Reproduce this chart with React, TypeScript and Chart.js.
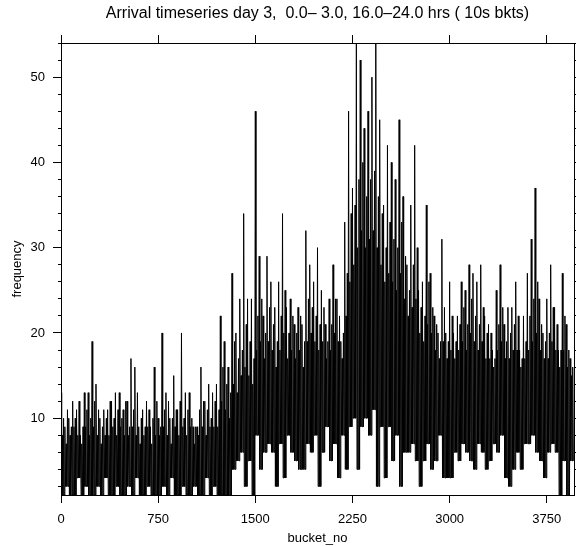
import { useEffect, useRef } from "react";
import { Chart, registerables } from "chart.js";

Chart.register(...registerables);

const TITLE = "Arrival timeseries day 3,  0.0\u2013 3.0, 16.0\u201324.0 hrs ( 10s bkts)";
const X_LABEL = "bucket_no";
const Y_LABEL = "frequency";

const X_MIN = 0;
const X_MAX = 3960;
const Y_MIN = 1;
const Y_MAX = 54;

// bucket numbers are grouped in columns of this many buckets
const BUCKET_STEP = 30;

const X_TICKS = [0, 750, 1500, 2250, 3000, 3750];
const Y_TICKS = [10, 20, 30, 40, 50];
const Y_MINOR_TICKS = [2, 4, 6, 8, 10, 12, 14, 16, 18, 20, 22, 24, 26, 28, 30, 32, 34, 36, 38, 40, 42, 44, 46, 48, 50, 52, 54];

// highest count (spike) read in each column of buckets
const HIGH_COUNTS = [
  13, 9, 10, 12, 11, 8, 13, 13, 19, 14,
  10, 11, 11, 12, 13, 13, 11, 12, 17, 16,
  9, 11, 12, 9, 16, 10, 20, 13, 10, 15,
  11, 20, 13, 13, 9, 9, 16, 12, 14, 13,
  14, 22, 19, 16, 27, 20, 24, 34, 24, 24,
  46, 29, 22, 29, 26, 23, 26, 34, 23, 24,
  21, 23, 21, 32, 28, 26, 30, 25, 21, 24,
  28, 24, 19, 33, 46, 37, 54, 52, 44, 46,
  50, 54, 45, 35, 42, 40, 38, 45, 36, 28,
  35, 42, 25, 26, 35, 27, 22, 20, 31, 20,
  26, 20, 22, 26, 25, 28, 27, 26, 28, 22,
  21, 18, 25, 28, 21, 23, 23, 26, 18, 22,
  27, 31, 37, 24, 20, 24, 28, 23, 18, 27, 21, 17,
];

// second, smaller spike read in each column of buckets
const MID_COUNTS = [
  10, 11, 9, 10, 12, 9, 11, 10, 12, 11,
  9, 10, 12, 10, 11, 10, 12, 9, 11, 13,
  10, 9, 11, 10, 12, 9, 11, 12, 10, 11,
  12, 10, 11, 10, 9, 11, 12, 11, 10, 12,
  11, 16, 14, 13, 19, 17, 18, 21, 19, 17,
  22, 24, 20, 23, 21, 19, 22, 25, 20, 22,
  20, 22, 19, 24, 23, 22, 21, 23, 19, 21,
  24, 22, 20, 27, 34, 35, 38, 40, 36, 38,
  39, 36, 34, 30, 33, 31, 30, 33, 29, 25,
  28, 30, 23, 22, 26, 23, 21, 19, 23, 19,
  22, 19, 21, 23, 21, 24, 22, 21, 23, 20,
  20, 17, 21, 23, 19, 20, 21, 22, 17, 19,
  22, 24, 26, 21, 19, 20, 23, 21, 18, 22, 18, 16,
];

// upper edge of the dense (solid black) band in each column
const BAND_COUNTS = [
  8, 7, 8, 9, 8, 7, 9, 8, 9, 8,
  7, 8, 8, 9, 8, 9, 8, 8, 9, 8,
  7, 8, 9, 7, 8, 8, 9, 8, 7, 9,
  8, 9, 8, 9, 7, 8, 9, 8, 9, 9,
  9, 12, 11, 10, 14, 13, 15, 16, 15, 14,
  18, 19, 17, 19, 18, 16, 18, 20, 17, 18,
  17, 18, 16, 19, 20, 19, 18, 19, 17, 18,
  20, 19, 17, 22, 26, 28, 30, 32, 30, 31,
  32, 30, 28, 26, 27, 26, 25, 27, 24, 22,
  23, 24, 20, 19, 21, 20, 18, 17, 19, 17,
  18, 17, 18, 19, 18, 20, 19, 18, 19, 17,
  17, 16, 18, 19, 17, 17, 18, 18, 16, 17,
  18, 19, 20, 18, 17, 17, 19, 18, 16, 18, 16, 15,
];

// lowest count read in each column of buckets
const LOW_COUNTS = [
  1, 2, 1, 1, 3, 1, 2, 1, 1, 2,
  1, 3, 1, 1, 2, 1, 1, 2, 1, 3,
  1, 1, 2, 1, 1, 1, 2, 1, 3, 1,
  1, 2, 1, 1, 2, 1, 1, 3, 1, 2,
  1, 1, 1, 1, 4, 5, 6, 2, 5, 1,
  8, 4, 6, 7, 6, 2, 7, 3, 8, 6,
  5, 4, 4, 7, 6, 8, 2, 6, 9, 5,
  7, 3, 8, 4, 9, 10, 4, 9, 10, 8,
  11, 2, 9, 3, 9, 5, 8, 2, 6, 6,
  7, 5, 2, 5, 7, 4, 5, 8, 3, 3,
  3, 6, 5, 7, 6, 5, 4, 7, 6, 4,
  5, 7, 6, 8, 3, 2, 4, 6, 4, 7,
  7, 8, 6, 5, 3, 6, 7, 6, 1, 5, 1, 5,
];

const FONT_FAMILY = "'Liberation Sans', Arial, Helvetica, sans-serif";

export default function App() {
  const canvasRef = useRef<HTMLCanvasElement | null>(null);

  useEffect(() => {
    document.body.style.margin = "0";
    const canvas = canvasRef.current;
    if (!canvas) return;

    // each column: spike, dip, band top, dip, second spike, dip
    const sixth = BUCKET_STEP / 6;
    const points: { x: number; y: number }[] = [];
    HIGH_COUNTS.forEach((hi, i) => {
      const start = i * BUCKET_STEP;
      const lo = LOW_COUNTS[i];
      points.push({ x: start, y: hi });
      points.push({ x: start + sixth, y: lo });
      points.push({ x: start + 2 * sixth, y: BAND_COUNTS[i] });
      points.push({ x: start + 3 * sixth, y: lo });
      points.push({ x: start + 4 * sixth, y: MID_COUNTS[i] });
      points.push({ x: start + 5 * sixth, y: lo });
    });

    const font = { family: FONT_FAMILY, size: 13, weight: "normal" as const };
    const titleFont = { family: FONT_FAMILY, size: 16, weight: "normal" as const };
    const axisGrid = (len: number) => ({
      drawOnChartArea: false,
      drawTicks: true,
      tickLength: len,
      tickColor: "#000",
      tickWidth: 1,
      color: "#000",
    });
    const border = { display: true, color: "#000", width: 1 };
    const blank = { callback: () => "", autoSkip: false, font, padding: 0 };

    const chart = new Chart(canvas, {
      type: "line",
      data: {
        datasets: [
          {
            data: points,
            borderColor: "#000",
            borderWidth: 1,
            pointRadius: 0,
            tension: 0,
            fill: false,
          },
        ],
      },
      options: {
        responsive: false,
        devicePixelRatio: 1,
        animation: false,
        events: [],
        layout: { padding: 0 },
        plugins: {
          legend: { display: false },
          tooltip: { enabled: false },
          title: {
            display: true,
            text: TITLE,
            color: "#000",
            font: titleFont,
            fullSize: false,
            padding: { top: 4, bottom: 0 },
          },
        },
        scales: {
          x: {
            type: "linear",
            position: "bottom",
            min: X_MIN,
            max: X_MAX,
            afterBuildTicks: (s: any) => {
              s.ticks = X_TICKS.map((v) => ({ value: v }));
            },
            afterFit: (s: any) => {
              s.height = 51;
            },
            grid: axisGrid(8),
            border,
            ticks: {
              color: "#000",
              font,
              padding: 9,
              maxRotation: 0,
              autoSkip: false,
              callback: (v: any) => String(v),
            },
            title: {
              display: true,
              text: X_LABEL,
              color: "#000",
              font,
              padding: { top: 0, bottom: 0 },
            },
          },
          xTop: {
            type: "linear",
            axis: "x",
            position: "top",
            min: X_MIN,
            max: X_MAX,
            afterBuildTicks: (s: any) => {
              s.ticks = X_TICKS.map((v) => ({ value: v }));
            },
            afterFit: (s: any) => {
              s.height = 19.8;
            },
            grid: axisGrid(8),
            border,
            ticks: blank,
          },
          y: {
            type: "linear",
            position: "left",
            weight: 1,
            min: Y_MIN,
            max: Y_MAX,
            afterBuildTicks: (s: any) => {
              s.ticks = Y_TICKS.map((v) => ({ value: v }));
            },
            afterFit: (s: any) => {
              s.width = 61;
            },
            grid: axisGrid(8),
            border,
            ticks: {
              color: "#000",
              font,
              padding: 8,
              autoSkip: false,
              callback: (v: any) => String(v),
            },
            title: {
              display: true,
              text: Y_LABEL,
              color: "#000",
              font,
              padding: { top: 10, bottom: 0 },
            },
          },
          yMinor: {
            type: "linear",
            axis: "y",
            position: "left",
            weight: 0,
            min: Y_MIN,
            max: Y_MAX,
            afterBuildTicks: (s: any) => {
              s.ticks = Y_MINOR_TICKS.map((v) => ({ value: v }));
            },
            afterFit: (s: any) => {
              s.width = 0;
            },
            grid: axisGrid(3),
            border: { display: false },
            ticks: blank,
          },
          yRight: {
            type: "linear",
            axis: "y",
            position: "right",
            min: Y_MIN,
            max: Y_MAX,
            afterBuildTicks: (s: any) => {
              s.ticks = Y_MINOR_TICKS.map((v) => ({ value: v }));
            },
            afterFit: (s: any) => {
              s.width = 2;
            },
            grid: axisGrid(8),
            border,
            ticks: blank,
          },
        },
      },
    } as any);

    return () => {
      chart.destroy();
    };
  }, []);

  return <canvas ref={canvasRef} width={576} height={546} style={{ display: "block" }} />;
}
